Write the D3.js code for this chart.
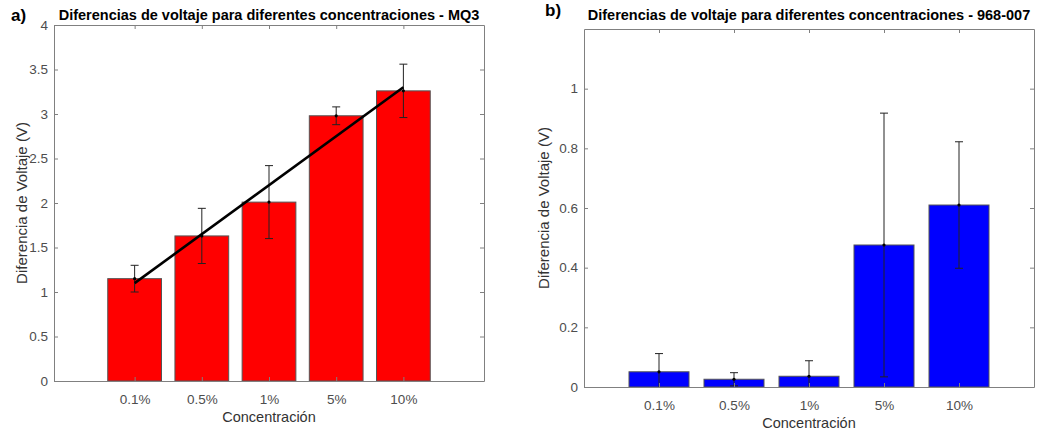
<!DOCTYPE html>
<html>
<head>
<meta charset="utf-8" />
<title>Diferencias de voltaje</title>
<script src="https://cdn.jsdelivr.net/npm/d3@7"></script>
<style>
    body { margin: 0; background: #fff; font-family: "Liberation Sans", Arial, sans-serif; }
    .tick-label { font-size: 13.5px; fill: #4d4d4d; }
    .axis-label { font-size: 14.5px; fill: #333; }
    .y-label { font-size: 15px; }
    .title { font-size: 14.5px; font-weight: bold; fill: #000; }
    .panel-tag { font-size: 17px; font-weight: bold; fill: #000; }
</style>
</head>
<body>
<div id="graphic"></div>
<script>
// categories
var concentraciones = ["0.1%", "0.5%", "1%", "5%", "10%"];

// panel a) MQ3
var mq3Mean = [1.15, 1.63, 2.01, 2.98, 3.26];
var mq3Err = [0.15, 0.31, 0.41, 0.10, 0.30];
var mq3FitX = ["0.1%", "10%"];
var mq3FitY = [1.10, 3.30];
var mq3Ticks = [0, 0.5, 1, 1.5, 2, 2.5, 3, 3.5, 4];

// panel b) 968-007
var s968Mean = [0.051, 0.026, 0.036, 0.476, 0.610];
var s968Err = [0.061, 0.022, 0.052, 0.442, 0.212];
var s968Ticks = [0, 0.2, 0.4, 0.6, 0.8, 1];

var svg = d3.select("#graphic").append("svg")
    .attr("width", 1047)
    .attr("height", 431);

function drawPanel(opt) {
    var x = d3.scaleLinear().domain(opt.xDomain).range([opt.left, opt.right]);
    var y = d3.scaleLinear().domain(opt.yDomain).range([opt.bottom, opt.top]);
    var pos = function (c) { return x(concentraciones.indexOf(c) + 1); };
    var barW = (x(1) - x(0)) * 0.8;

    var g = svg.append("g");

    g.append("clipPath").attr("id", opt.id + "-clip")
        .append("rect")
        .attr("x", opt.left).attr("y", opt.top)
        .attr("width", opt.right - opt.left).attr("height", opt.bottom - opt.top);

    var plot = g.append("g").attr("clip-path", "url(#" + opt.id + "-clip)");

    // bars
    plot.selectAll(".bar")
        .data(opt.mean)
        .enter()
        .append("rect")
        .attr("class", "bar")
        .attr("x", function (d, i) { return pos(concentraciones[i]) - barW / 2; })
        .attr("y", function (d) { return y(d); })
        .attr("width", barW)
        .attr("height", function (d) { return y(0) - y(d); })
        .attr("fill", opt.color)
        .attr("stroke", "#555")
        .attr("stroke-width", 1);

    // error bars
    var eb = plot.selectAll(".err")
        .data(opt.mean)
        .enter()
        .append("g")
        .attr("class", "err")
        .attr("stroke", "#222")
        .attr("stroke-width", 1);

    eb.append("line")
        .attr("x1", function (d, i) { return pos(concentraciones[i]); })
        .attr("x2", function (d, i) { return pos(concentraciones[i]); })
        .attr("y1", function (d, i) { return y(d - opt.err[i]); })
        .attr("y2", function (d, i) { return y(d + opt.err[i]); });
    eb.append("line")
        .attr("x1", function (d, i) { return pos(concentraciones[i]) - 4; })
        .attr("x2", function (d, i) { return pos(concentraciones[i]) + 4; })
        .attr("y1", function (d, i) { return y(d + opt.err[i]); })
        .attr("y2", function (d, i) { return y(d + opt.err[i]); });
    eb.append("line")
        .attr("x1", function (d, i) { return pos(concentraciones[i]) - 4; })
        .attr("x2", function (d, i) { return pos(concentraciones[i]) + 4; })
        .attr("y1", function (d, i) { return y(d - opt.err[i]); })
        .attr("y2", function (d, i) { return y(d - opt.err[i]); });
    eb.append("circle")
        .attr("cx", function (d, i) { return pos(concentraciones[i]); })
        .attr("cy", function (d) { return y(d); })
        .attr("r", 1.6)
        .attr("fill", "#000")
        .attr("stroke", "none");

    // fit line
    if (opt.fitX) {
        var line = d3.line()
            .x(function (d) { return pos(d[0]); })
            .y(function (d) { return y(d[1]); });
        plot.append("path")
            .datum(d3.zip(opt.fitX, opt.fitY))
            .attr("d", line)
            .attr("fill", "none")
            .attr("stroke", "#000")
            .attr("stroke-width", 2.6);
    }

    // axes (box with inward ticks)
    var xt = concentraciones.map(function (c, i) { return i + 1; });
    var axisStyle = function (sel) {
        sel.select(".domain").attr("stroke", "#808080");
        sel.selectAll(".tick line").attr("stroke", "#808080");
        sel.selectAll("text").attr("class", "tick-label").attr("font-family", null).attr("font-size", null).attr("fill", null);
    };

    g.append("g")
        .attr("transform", "translate(0," + opt.bottom + ")")
        .call(d3.axisBottom(x).tickValues(xt).tickSizeInner(-4).tickSizeOuter(0).tickPadding(13)
            .tickFormat(function (d) { return concentraciones[d - 1]; }))
        .call(axisStyle);
    g.append("g")
        .attr("transform", "translate(0," + opt.top + ")")
        .call(d3.axisTop(x).tickValues(xt).tickSizeInner(-4).tickSizeOuter(0).tickFormat(""))
        .call(axisStyle);
    g.append("g")
        .attr("transform", "translate(" + opt.left + ",0)")
        .call(d3.axisLeft(y).tickValues(opt.yTicks).tickSizeInner(-4).tickSizeOuter(0).tickPadding(6)
            .tickFormat(d3.format("")))
        .call(axisStyle);
    g.append("g")
        .attr("transform", "translate(" + opt.right + ",0)")
        .call(d3.axisRight(y).tickValues(opt.yTicks).tickSizeInner(-4).tickSizeOuter(0).tickFormat(""))
        .call(axisStyle);

    // labels
    g.append("text")
        .attr("class", "axis-label")
        .attr("x", (opt.left + opt.right) / 2)
        .attr("y", opt.bottom + 41)
        .attr("text-anchor", "middle")
        .text("Concentración");
    g.append("text")
        .attr("class", "axis-label y-label")
        .attr("transform", "translate(" + opt.yLabelX + "," + (opt.top + opt.bottom) / 2 + ") rotate(-90)")
        .attr("text-anchor", "middle")
        .text("Diferencia de Voltaje (V)");
    g.append("text")
        .attr("class", "title")
        .attr("x", (opt.left + opt.right) / 2)
        .attr("y", 20)
        .attr("text-anchor", "middle")
        .text(opt.title);
    g.append("text")
        .attr("class", "panel-tag")
        .attr("x", opt.tagX)
        .attr("y", opt.tagY)
        .text(opt.tag);
}

drawPanel({
    id: "a", left: 54, right: 484, top: 25, bottom: 381,
    xDomain: [-0.2, 6.2], yDomain: [0, 4], yTicks: mq3Ticks,
    mean: mq3Mean, err: mq3Err, fitX: mq3FitX, fitY: mq3FitY,
    color: "#ff0000", yLabelX: 27,
    title: "Diferencias de voltaje para diferentes concentraciones - MQ3",
    tag: "a)", tagX: 11, tagY: 21
});

drawPanel({
    id: "b", left: 584, right: 1034, top: 29, bottom: 387,
    xDomain: [0, 6], yDomain: [0, 1.2], yTicks: s968Ticks,
    mean: s968Mean, err: s968Err,
    color: "#0000ff", yLabelX: 549,
    title: "Diferencias de voltaje para diferentes concentraciones - 968-007",
    tag: "b)", tagX: 545, tagY: 16
});
</script>
</body>
</html>
